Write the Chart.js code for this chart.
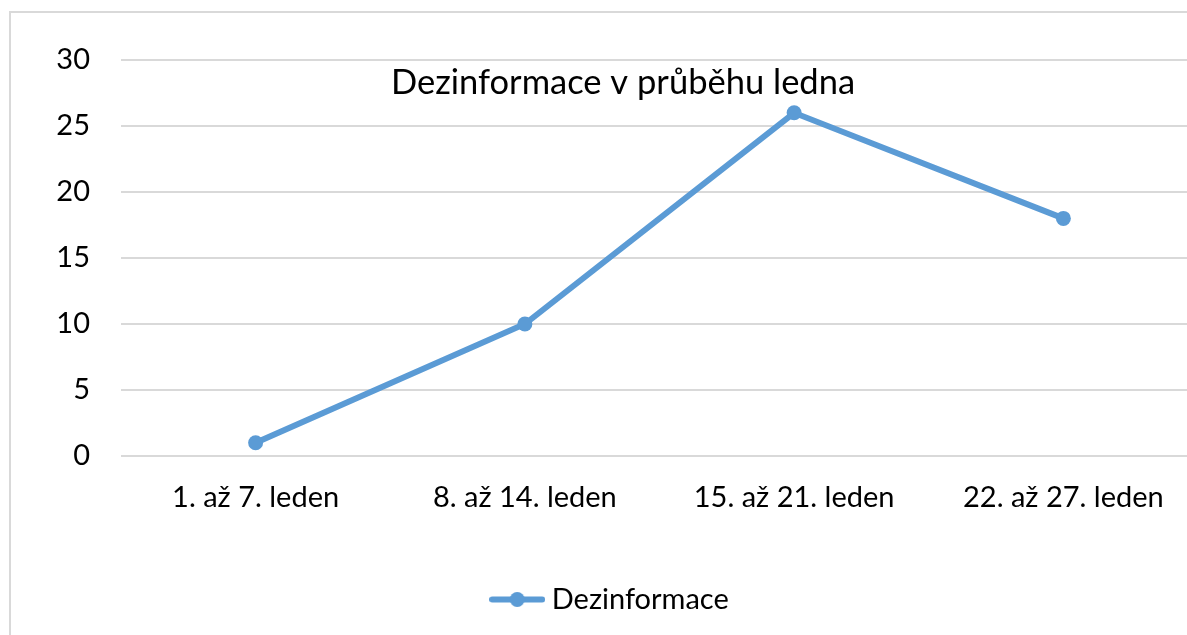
<!DOCTYPE html>
<html>
<head>
<meta charset="utf-8">
<script src="https://cdn.jsdelivr.net/npm/chart.js@4/dist/chart.umd.min.js"></script>
<style>
  html, body { margin: 0; padding: 0; background: #fff; overflow: hidden; }
  #wrap { position: relative; width: 1240px; height: 635px; }
</style>
</head>
<body>
<div id="wrap"><canvas id="chart"></canvas></div>
<script>
const categories = ["1. až 7. leden", "8. až 14. leden", "15. až 21. leden", "22. až 27. leden"];
const seriesName = "Dezinformace";
const seriesValues = [1, 10, 26, 18];
const chartTitle = "Dezinformace v průběhu ledna";
const yTicks = [0, 5, 10, 15, 20, 25, 30];

const blue = "#5b9bd5";
const font = "Lato";

// small picture of a line with a dot, used as legend marker
function legendMarker() {
  const c = document.createElement("canvas");
  c.width = 56; c.height = 17;
  const g = c.getContext("2d");
  g.strokeStyle = blue; g.lineWidth = 6; g.lineCap = "round";
  g.beginPath(); g.moveTo(3, 8.5); g.lineTo(53, 8.5); g.stroke();
  g.fillStyle = blue;
  g.beginPath(); g.arc(28, 8.5, 7.5, 0, Math.PI * 2); g.fill();
  return c;
}
const marker = legendMarker();

const frame = {
  id: "frame",
  afterLayout(chart) {
    // legend sits a bit right of the canvas centre in the original
    chart.legend.left += 14;
    chart.legend.right += 14;
  },
  beforeDraw(chart) {
    const ctx = chart.ctx;
    ctx.save();
    ctx.fillStyle = "#fff";
    ctx.fillRect(0, 0, chart.width, chart.height);
    ctx.strokeStyle = "#d9d9d9";
    ctx.lineWidth = 2;
    ctx.strokeRect(10, 12, chart.width + 20, chart.height + 20);
    ctx.restore();
  },
  afterDraw(chart) {
    const ctx = chart.ctx;
    ctx.save();
    ctx.font = "34.5px " + font;
    ctx.fillStyle = "#000";
    ctx.textAlign = "center";
    ctx.textBaseline = "middle";
    ctx.fillText(chartTitle, 623, 83);
    ctx.restore();
  }
};

new Chart(document.getElementById("chart"), {
  type: "line",
  data: {
    labels: categories,
    datasets: [{
      label: seriesName,
      data: seriesValues,
      borderColor: blue,
      backgroundColor: blue,
      borderWidth: 6,
      pointRadius: 7.5,
      pointHoverRadius: 7.5,
      pointBackgroundColor: blue,
      pointBorderWidth: 0,
      tension: 0
    }]
  },
  options: {
    responsive: true,
    maintainAspectRatio: false,
    animation: false,
    layout: { padding: { left: 0, top: 60, right: 42, bottom: 11 } },
    plugins: {
      title: { display: false },
      tooltip: { enabled: false },
      legend: {
        position: "bottom",
        labels: {
          font: { family: font, size: 29 },
          color: "#000",
          usePointStyle: true,
          pointStyleWidth: 40,
          padding: 10,
          generateLabels: (chart) => [{
            text: seriesName,
            pointStyle: marker,
            fillStyle: blue,
            strokeStyle: blue,
            lineWidth: 0,
            datasetIndex: 0
          }]
        }
      }
    },
    scales: {
      x: {
        offset: true,
        grid: { display: false },
        border: { display: false },
        ticks: { font: { family: font, size: 29 }, color: "#000", padding: 16, maxRotation: 0 },
        afterFit: (s) => { s.height = 119; }
      },
      y: {
        min: 0,
        max: 30,
        afterBuildTicks: (s) => { s.ticks = yTicks.map(v => ({ value: v })); },
        grid: { color: "#d9d9d9", lineWidth: 2, drawTicks: false },
        border: { display: false },
        ticks: { font: { family: font, size: 29 }, color: "#000", padding: 31 },
        afterFit: (s) => { s.width = 121; }
      }
    }
  },
  plugins: [frame]
});
</script>
</body>
</html>
